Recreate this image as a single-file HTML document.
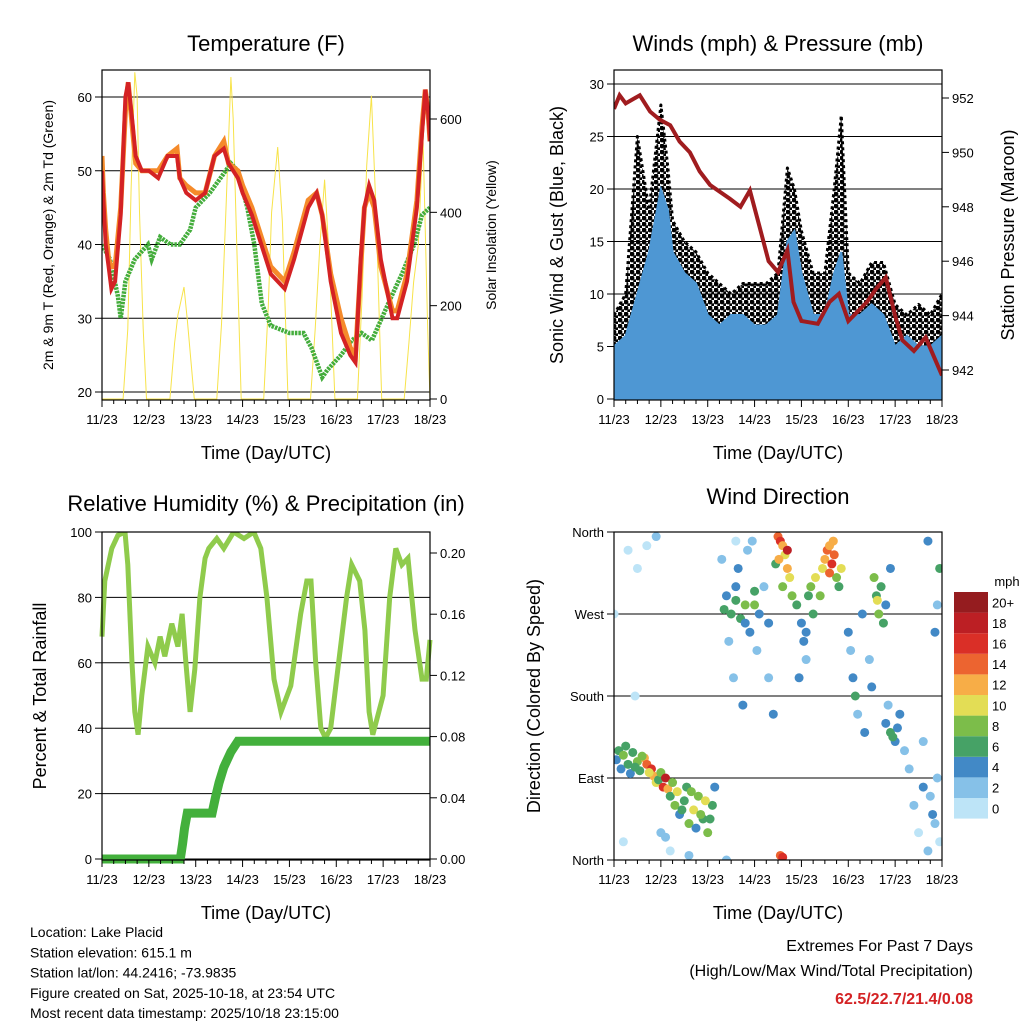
<!DOCTYPE html>
<html><head><meta charset="utf-8"><style>
body{margin:0;background:#fff}
svg{display:block;font-family:"Liberation Sans",sans-serif}
</style></head><body>
<svg id="s" width="1024" height="1024" viewBox="0 0 1024 1024" xmlns="http://www.w3.org/2000/svg">
<rect width="1024" height="1024" fill="#fff"/>
</svg>
<script>
// ---------- DATA ----------
const dayLabels=["11/23","12/23","13/23","14/23","15/23","16/23","17/23","18/23"];
const tempTicks=[20,30,40,50,60];
const solarTicks=[0,200,400,600];
const windTicks=[0,5,10,15,20,25,30];
const presTicks=[942,944,946,948,950,952];
const rhTicks=[0,20,40,60,80,100];
const rainTicks=[0,0.04,0.08,0.12,0.16,0.20];
const dirTicks=[0,90,180,270,360];
const dirLabels=["North","East","South","West","North"];
const cbLabels=["0","2","4","6","8","10","12","14","16","18","20+"];
const cbColors=["#bde4f7","#86c1e8","#4289c6","#46a266","#7cbd4a","#e3dd55","#f7ad47","#ec6430","#da2f27","#bc1f24","#951c1f"];

const tempTime=[0,0.03,0.08,0.14,0.2,0.28,0.4,0.5,0.56,0.66,0.72,0.85,1.0,1.2,1.4,1.6,1.66,1.8,2.0,2.2,2.4,2.6,2.7,2.9,3.0,3.2,3.4,3.6,3.9,4.1,4.4,4.58,4.7,4.88,5.1,5.3,5.41,5.52,5.6,5.7,5.81,5.95,6.2,6.3,6.51,6.72,6.83,6.9,6.96,7.0];
const tempRed=[50,46,40,37,34,35,44,60,62,56,52,50,50,49,52,52,49,47,46,47,52,53,51,49,47,44,40,36,34,38,45,47,44,35,28,25,24,38,45,48,46,38,30,30,35,45,55,61,58,54];
const tempOrange=[52,47,42,38,37,37,45,58,62,55,51,50,50,50,52,53,49,48,47,47,52,54,51,50,48,45,41,37,35,39,46,47,44,36,30,26,25,37,45,47,45,37,31,31,36,46,56,61,58,54];
const dewTime=[0,0.17,0.34,0.4,0.5,0.7,0.98,1.06,1.24,1.46,1.66,1.88,2.0,2.3,2.53,2.75,2.9,3.1,3.25,3.41,3.6,4.0,4.3,4.47,4.7,4.81,5.1,5.33,5.54,5.76,5.97,6.18,6.4,6.66,6.83,7.0];
const dewVals=[40,38,33,30,35,38,40,38,41,40,40,42,45,47,49,51,50,45,40,32,29,28,28,26,22,23,25,27,28,27,30,33,36,40,44,45];
const solarTime=[0,0.45,0.55,0.62,0.7,0.75,0.8,0.88,0.95,1.45,1.55,1.62,1.75,1.82,1.9,1.97,2.45,2.55,2.65,2.75,2.8,2.88,2.97,3.45,3.55,3.62,3.75,3.85,3.97,4.45,4.55,4.65,4.75,4.85,4.97,5.45,5.55,5.65,5.75,5.85,5.97,6.45,6.55,6.65,6.75,6.85,6.95,7.0];
const solarVals=[0,0,150,450,700,650,400,150,0,0,120,180,240,170,80,0,0,160,420,690,600,320,0,0,200,400,540,380,0,0,150,330,470,300,0,0,220,500,650,400,0,0,120,250,330,560,150,0];

const presTime=[0,0.12,0.25,0.55,0.77,0.98,1.2,1.4,1.62,1.83,2.05,2.47,2.7,2.9,3.1,3.3,3.5,3.7,3.83,4.0,4.35,4.6,4.8,5.0,5.4,5.6,5.8,6.0,6.15,6.4,6.65,7.0];
const presVals=[951.6,952.1,951.8,952.1,951.5,951.2,951.0,950.4,950.0,949.3,948.8,948.3,948.0,948.6,947.3,946.0,945.6,946.4,944.5,943.8,943.7,944.5,944.8,943.8,944.5,945.0,945.4,944.0,943.1,942.7,943.2,941.8];
const windTime=[0,0.25,0.5,0.75,1.0,1.15,1.25,1.5,1.75,2.0,2.25,2.5,2.75,3.0,3.25,3.5,3.7,3.85,4.0,4.25,4.5,4.7,4.85,5.0,5.25,5.5,5.75,6.0,6.25,6.5,6.75,7.0];
const windMax=[5,6,10,14,20,18,14,12,11,8,7,8,8,7,7,8,15,16,12,8,8,12,14,8,8,9,8,5,6,5,5,6];
const gustMax=[8,10,25,18,28,22,17,15,14,12,11,10,11,11,11,12,22,20,16,12,12,20,27,12,11,13,13,9,8,9,8,10];
const gustMin=[2,3,4,6,8,6,5,4,3,3,3,3,3,3,3,3,5,6,5,3,3,4,5,3,3,3,3,2,2,2,2,3];

const rhTime=[0,0.06,0.21,0.34,0.49,0.55,0.64,0.7,0.77,0.85,0.98,1.13,1.24,1.34,1.49,1.62,1.71,1.79,1.88,1.98,2.09,2.2,2.28,2.45,2.6,2.81,3.03,3.24,3.39,3.52,3.67,3.82,4.03,4.24,4.37,4.46,4.56,4.67,4.77,4.88,5.05,5.22,5.33,5.5,5.61,5.7,5.78,6.0,6.14,6.27,6.4,6.53,6.68,6.83,6.92,7.0];
const rhVals=[68,85,95,99,100,90,60,45,38,50,65,60,68,62,72,65,75,60,45,58,80,92,95,98,95,100,98,100,95,80,55,45,53,75,85,85,60,40,37,40,60,80,90,85,70,45,38,50,80,95,90,92,70,55,55,67];
const rainTime=[0,1.67,1.72,1.76,1.82,2.35,2.42,2.5,2.6,2.75,2.9,7.0];
const rainVals=[0,0,0.01,0.02,0.03,0.03,0.04,0.05,0.06,0.07,0.077,0.077];

const dirDay=[0.05,0.1,0.15,0.2,0.3,0.35,0.4,0.5,0.55,0.65,0.7,0.8,0.85,0.9,0.95,1.0,1.05,1.1,1.15,0.25,0.45,0.6,0.75,
1.2,1.3,1.35,1.4,1.5,1.6,1.7,1.8,1.9,2.0,2.1,2.15,1.25,1.55,1.75,1.95,1.45,1.65,1.85,2.05,
0.3,0.5,0.2,1.0,1.2,0.9,0.0,0.45,1.6,2.4,2.6,0.7,1.1,
2.3,2.4,2.5,2.6,2.7,2.8,2.9,3.0,3.1,2.45,2.65,2.85,3.05,2.55,2.75,2.95,3.2,3.3,2.35,2.6,2.8,3.0,
3.5,3.55,3.6,3.65,3.7,3.75,3.6,3.8,3.55,3.6,3.7,3.45,3.52,3.3,3.4,
3.9,4.0,4.05,4.1,4.15,4.2,4.25,3.95,4.3,4.1,
4.45,4.5,4.55,4.6,4.65,4.7,4.75,4.8,4.85,4.4,4.6,4.68,
5.0,5.05,5.1,5.15,5.2,5.3,5.35,5.45,5.5,
5.55,5.6,5.65,5.7,5.8,5.75,5.9,5.62,
5.8,5.9,6.0,6.1,6.2,5.85,6.05,5.95,
6.3,6.4,6.5,6.6,6.7,6.8,6.9,6.95,6.6,6.85,6.9,6.7,6.95,6.75,6.85];
const dirDeg=[110,120,100,115,105,95,118,108,98,112,105,100,92,85,88,96,80,90,78,125,102,114,96,
70,60,75,50,65,40,55,70,45,30,60,80,85,80,35,65,55,75,50,45,
340,320,20,30,10,355,270,180,5,0,350,345,25,
330,290,270,300,265,280,250,295,270,240,320,340,230,200,170,350,300,260,275,285,260,280,
355,350,345,335,320,310,300,290,5,3,340,325,330,200,160,
280,260,240,220,290,300,270,200,310,250,
320,330,340,345,325,335,310,300,320,290,315,350,
250,230,200,180,160,270,140,220,190,
310,290,270,300,280,260,320,285,
150,140,130,160,120,170,145,135,
100,60,30,80,10,50,90,20,130,250,280,350,320,70,40];
const dirSpd=[4,6,4,8,6,4,6,8,6,12,14,16,12,10,6,8,16,18,12,6,6,8,10,
6,8,10,4,6,8,10,8,6,8,6,4,8,6,4,10,6,8,8,6,
0,0,0,2,0,2,0,0,2,2,0,0,2,
2,4,6,4,6,8,4,6,4,2,4,2,2,2,4,2,2,4,6,6,4,8,
14,16,12,10,12,10,8,8,14,16,18,6,12,2,4,
6,4,4,2,6,8,6,4,10,4,
10,12,14,12,16,14,8,6,10,8,14,12,
4,2,4,6,2,4,4,2,4,
8,6,8,6,4,6,4,10,
4,6,4,4,2,2,4,6,
2,2,0,4,2,4,2,0,2,4,2,4,6,2,2];

// ---------- HELPERS ----------
const S=document.getElementById('s');const NS="http://www.w3.org/2000/svg";
function mk(tag,attrs,parent){const e=document.createElementNS(NS,tag);for(const k in attrs)e.setAttribute(k,attrs[k]);(parent||S).appendChild(e);return e;}
function txt(x,y,t,size,anchor,extra){const e=mk('text',Object.assign({x:x,y:y,'font-size':size,'text-anchor':anchor||'middle',fill:'#000'},extra||{}));e.textContent=t;return e;}
function lin(d0,d1,r0,r1){return v=>r0+(v-d0)/(d1-d0)*(r1-r0);}
function pathOf(xs,ys,fx,fy){return xs.map((t,i)=>(i?'L':'M')+fx(t).toFixed(1)+','+fy(ys[i]).toFixed(1)).join('');}

function panel(P){
  const g=mk('g',{});
  return g;
}
function xAxis(g,L,R,B,yLab){
  const fx=lin(0,7,L,R);
  dayLabels.forEach((d,i)=>{const x=fx(i);mk('line',{x1:x,y1:B,x2:x,y2:B+7,stroke:'#000'},g);
    const t=txt(x,B+24,d,13,'middle');g.appendChild(t);
    if(i<7)for(let k=1;k<4;k++){const xx=fx(i+k/4);mk('line',{x1:xx,y1:B,x2:xx,y2:B+4,stroke:'#000'},g);}});
  const t=txt((L+R)/2,yLab,'Time (Day/UTC)',18,'middle');g.appendChild(t);
  return fx;
}
function frame(g,L,R,T,B){mk('rect',{x:L,y:T,width:R-L,height:B-T,fill:'none',stroke:'#000','stroke-width':1.2},g);}
function yTicks(g,ticks,fy,x,side,labels,grid,L,R,fmt){
  ticks.forEach((v,i)=>{const y=fy(v);
    if(grid)mk('line',{x1:L,y1:y,x2:R,y2:y,stroke:'#000','stroke-width':1},g);
    mk('line',{x1:x,y1:y,x2:x+(side<0?-7:7),y2:y,stroke:'#000'},g);
    const t=txt(x+(side<0?-10:10),y+5,labels?labels[i]:(fmt?fmt(v):String(v)),13,side<0?'end':'start');g.appendChild(t);
    });
}
function vlabel(g,x,y,t,size,name){const e=txt(x,y,t,size,'middle',{transform:`rotate(-90 ${x} ${y})`});g.appendChild(e);}
function title(g,x,y,t,name){const e=txt(x,y,t,22,'middle');g.appendChild(e);}

// ---------- PANEL 1: TEMPERATURE ----------
(function(){
  const L=102,R=430,T=70,B=400;const g=panel({name:'temperature-panel'});
  const fx=lin(0,7,L,R),fy=lin(20,60,392,97),fs=lin(0,600,399,119);
  title(g,266,51,'Temperature (F)','temperature-title');
  const clip=mk('clipPath',{id:'c1'},g);mk('rect',{x:L,y:T,width:R-L,height:B-T},clip);
  yTicks(g,tempTicks,fy,L,-1,null,true,L,R);
  yTicks(g,solarTicks,fs,R,1,null,false);
  const pc=mk('g',{'clip-path':'url(#c1)'},g);
  let p=mk('path',{d:pathOf(solarTime,solarVals,fx,fs),fill:'none',stroke:'#f7e34a','stroke-width':1},pc);
  p=mk('path',{d:pathOf(dewTime,dewVals,fx,fy),fill:'none',stroke:'#44ad3c','stroke-width':4.5,'stroke-dasharray':'2.5 1'},pc);
  p=mk('path',{d:pathOf(tempTime,tempOrange,fx,fy),fill:'none',stroke:'#f58a2a','stroke-width':5},pc);
  p=mk('path',{d:pathOf(tempTime,tempRed,fx,fy),fill:'none',stroke:'#d42224','stroke-width':4},pc);
  frame(g,L,R,T,B);
  xAxis(g,L,R,B,459);
  vlabel(g,53,235,'2m & 9m T (Red, Orange) & 2m Td (Green)',14,'left-axis-title');
  vlabel(g,496,235,'Solar Insolation (Yellow)',14,'right-axis-title');
})();

// ---------- PANEL 2: WINDS ----------
(function(){
  const L=614,R=942,T=70,B=400;const g=panel({name:'winds-panel'});
  const fx=lin(0,7,L,R),fy=lin(0,30,399,84),fp=lin(942,952,370,98);
  title(g,778,51,'Winds (mph) & Pressure (mb)','winds-title');
  const clip=mk('clipPath',{id:'c2'},g);mk('rect',{x:L,y:T,width:R-L,height:B-T},clip);
  yTicks(g,windTicks,fy,L,-1,null,true,L,R);
  yTicks(g,presTicks,fp,R,1,null,false);
  const pc=mk('g',{'clip-path':'url(#c2)'},g);
  const pat=mk('pattern',{id:'dots',width:6,height:6,patternUnits:'userSpaceOnUse'},g);
  mk('circle',{cx:2,cy:2,r:2.4,fill:'#000'},pat);mk('circle',{cx:5,cy:5,r:1.8,fill:'#000'},pat);
  const up=windTime.map((t,i)=>`${fx(t).toFixed(1)},${fy(gustMax[i]).toFixed(1)}`);
  const dn=windTime.map((t,i)=>`${fx(t).toFixed(1)},${fy(gustMin[i]).toFixed(1)}`).reverse();
  let p=mk('polygon',{points:up.concat(dn).join(' '),fill:'url(#dots)',stroke:'#000','stroke-width':3,'stroke-linejoin':'round','stroke-dasharray':'3 3'},pc);
  const up2=windTime.map((t,i)=>`${fx(t).toFixed(1)},${fy(windMax[i]).toFixed(1)}`);
  p=mk('polygon',{points:up2.concat([`${fx(7)},${fy(0)}`,`${fx(0)},${fy(0)}`]).join(' '),fill:'#4e97d3',stroke:'#4e97d3','stroke-width':2},pc);
  p=mk('path',{d:pathOf(presTime,presVals,fx,fp),fill:'none',stroke:'#a01c1f','stroke-width':4},pc);
  frame(g,L,R,T,B);
  xAxis(g,L,R,B,459);
  vlabel(g,563,235,'Sonic Wind & Gust (Blue, Black)',18,'left-axis-title');
  vlabel(g,1014,235,'Station Pressure (Maroon)',18,'right-axis-title');
})();

// ---------- PANEL 3: RH ----------
(function(){
  const L=102,R=430,T=532,B=860;const g=panel({name:'humidity-panel'});
  const fx=lin(0,7,L,R),fy=lin(0,100,859,532),fr=lin(0,0.2,859,553);
  title(g,266,511,'Relative Humidity (%) & Precipitation (in)','humidity-title');
  const clip=mk('clipPath',{id:'c3'},g);mk('rect',{x:L-6,y:T,width:R-L+12,height:B-T+6},clip);
  yTicks(g,rhTicks,fy,L,-1,null,true,L,R);
  yTicks(g,rainTicks,fr,R,1,rainTicks.map(v=>v.toFixed(2)),false);
  const pc=mk('g',{'clip-path':'url(#c3)'},g);
  let p=mk('path',{d:pathOf(rhTime,rhVals,fx,fy),fill:'none',stroke:'#8fcb4c','stroke-width':5},pc);
  p=mk('path',{d:pathOf(rainTime,rainVals,fx,fr),fill:'none',stroke:'#43b03c','stroke-width':9},pc);
  frame(g,L,R,T,B);
  xAxis(g,L,R,B,919);
  vlabel(g,46,696,'Percent & Total Rainfall',18,'left-axis-title');
})();

// ---------- PANEL 4: WIND DIRECTION ----------
(function(){
  const L=614,R=942,T=532,B=860;const g=panel({name:'wind-direction-panel'});
  const fx=lin(0,7,L,R),fy=lin(0,360,860,532);
  title(g,778,504,'Wind Direction','wind-direction-title');
  yTicks(g,dirTicks,fy,L,-1,dirLabels,true,L,R);
  const clip=mk('clipPath',{id:'c4'},g);mk('rect',{x:L,y:T,width:R-L,height:B-T},clip);
  const pc=mk('g',{'clip-path':'url(#c4)'},g);
  dirDay.forEach((d,i)=>{const c=mk('circle',{cx:fx(d),cy:fy(dirDeg[i]),r:4.5,fill:cbColors[Math.min(10,Math.round(dirSpd[i]/2))]},pc);
    });
  frame(g,L,R,T,B);
  xAxis(g,L,R,B,919);
  vlabel(g,540,696,'Direction (Colored By Speed)',18,'left-axis-title');
  const cb=mk('g',{});
  const h=20.6;
  cbColors.forEach((c,i)=>{const y=592+(10-i)*h;mk('rect',{x:954,y:y,width:34,height:h,fill:c},cb);
    const t=txt(992,y+h/2+5,cbLabels[i],13,'start');cb.appendChild(t);});
  const t=txt(1007,586,'mph',13,'middle');cb.appendChild(t);
})();

// ---------- FOOTER ----------
(function(){
  const g=mk('g',{});
  ["Location: Lake Placid","Station elevation: 615.1 m","Station lat/lon: 44.2416; -73.9835","Figure created on Sat, 2025-10-18, at 23:54 UTC","Most recent data timestamp: 2025/10/18 23:15:00"].forEach((s,i)=>{
    const t=txt(30,937+i*20.3,s,14,'start');g.appendChild(t);});
  const e=mk('g',{});
  let t=txt(973,951,'Extremes For Past 7 Days',16,'end');e.appendChild(t);
  t=txt(973,976,'(High/Low/Max Wind/Total Precipitation)',16,'end');e.appendChild(t);
  t=txt(973,1004,'62.5/22.7/21.4/0.08',16,'end',{fill:'#d42224','font-weight':'bold'});e.appendChild(t);
})();
</script>
</body></html>
